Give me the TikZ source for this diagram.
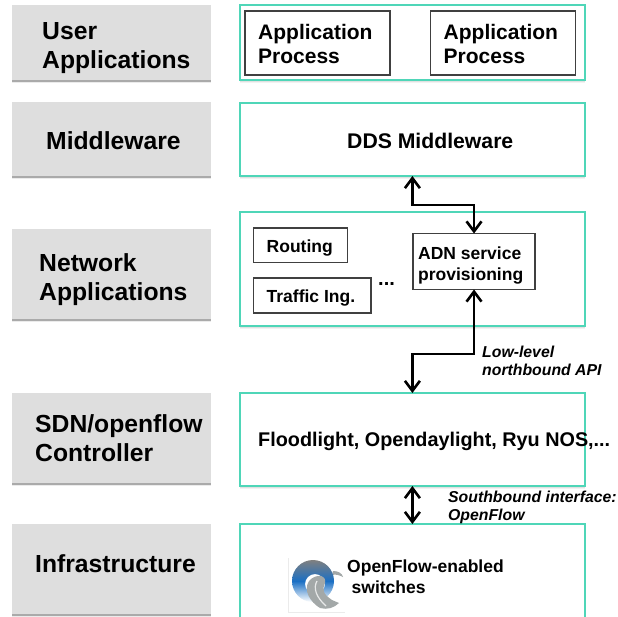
\documentclass[tikz,border=0pt]{standalone}
\usepackage{fontspec}
\setmainfont{Liberation Sans}
\usetikzlibrary{arrows.meta,shadows,calc}
\definecolor{tealedge}{HTML}{4FD6B8}
\definecolor{greyfill}{HTML}{DEDEDE}
\definecolor{procedge}{HTML}{404040}
\definecolor{logoblue}{HTML}{1A6FC4}
\definecolor{logodark}{HTML}{0A3F86}
\definecolor{logolight}{HTML}{3E96E0}
\definecolor{logogrey}{HTML}{A3A8A8}
\tikzset{
  greybox/.style={fill=greyfill,draw=none,anchor=north west,inner sep=0pt,outer sep=0pt,minimum width=199pt,
    drop shadow={shadow xshift=0pt,shadow yshift=-3.2pt,fill=black,opacity=.08},
    drop shadow={shadow xshift=0pt,shadow yshift=-1.8pt,fill=black,opacity=.28}},
  tealbox/.style={fill=white,draw=tealedge,line width=1.8pt,anchor=north west,inner sep=0pt,outer sep=0pt,minimum width=345pt,
    drop shadow={shadow xshift=0pt,shadow yshift=-3pt,fill=black,opacity=.05},
    drop shadow={shadow xshift=0pt,shadow yshift=-1.8pt,fill=black,opacity=.07}},
  procbox/.style={fill=white,draw=procedge,line width=1.3pt,anchor=north west,inner sep=0pt,outer sep=0pt},
  layertext/.style={anchor=base west,align=left,inner sep=0pt,font=\bfseries\fontsize{24.7}{28.7}\selectfont},
  proctext/.style={anchor=base west,align=left,inner sep=0pt,font=\bfseries\fontsize{21}{24.5}\selectfont},
  smalltext/.style={anchor=base west,align=left,inner sep=0pt,font=\bfseries\fontsize{17.5}{21}\selectfont},
  notetext/.style={anchor=base west,align=left,inner sep=0pt,font=\bfseries\itshape\fontsize{15.8}{17.8}\selectfont},
  link/.style={line width=2.6pt,black,{Straight Barb[length=10pt,width=15pt,line width=2.6pt]}-{Straight Barb[length=10pt,width=15pt,line width=2.6pt]}},
}
\begin{document}
\begin{tikzpicture}[x=1pt,y=-1pt]
\useasboundingbox (0,0) rectangle (618,616);
% left layer boxes
\node[greybox,minimum height=75pt] (g1) at (12,5) {};
\node[greybox,minimum height=74pt] (g2) at (12,102) {};
\node[greybox,minimum height=90pt] (g3) at (12,229) {};
\node[greybox,minimum height=90pt] (g4) at (12,393) {};
\node[greybox,minimum height=90pt] (g5) at (12,524) {};
\node[layertext] (t1) at (42,68) {User\\Applications};
\node[layertext] (t2) at (46,149) {Middleware};
\node[layertext] (t3) at (39,300) {Network\\Applications};
\node[layertext] (t4) at (35,461) {SDN/openflow\\Controller};
\node[layertext] (t5) at (35,572) {Infrastructure};
% right layer boxes
\node[tealbox,minimum height=75pt] (r1) at (240,5) {};
\node[tealbox,minimum height=73pt] (r2) at (240,103) {};
\node[tealbox,minimum height=114pt] (r3) at (240,212) {};
\node[tealbox,minimum height=93pt] (r4) at (240,393) {};
\node[tealbox,minimum height=96pt] (r5) at (240,524) {};
% inner boxes
\node[procbox,minimum width=145pt,minimum height=64pt] (p1) at (245,11) {};
\node[procbox,minimum width=145pt,minimum height=64pt] (p2) at (430.5,11) {};
\node[proctext] (pt1) at (258,63.5) {Application\\Process};
\node[proctext] (pt2) at (443.5,63.5) {Application\\Process};
\node[anchor=base west,inner sep=0pt,font=\bfseries\fontsize{21.2}{24}\selectfont] (dds) at (347,148) {DDS Middleware};
\node[procbox,minimum width=94pt,minimum height=34.5pt] (rt) at (253.5,228) {};
\node[procbox,minimum width=117.5pt,minimum height=35pt] (ti) at (253.5,278) {};
\node[procbox,minimum width=122pt,minimum height=56pt] (adn) at (413,233.5) {};
\node[smalltext] (rtt) at (266.5,252) {Routing};
\node[smalltext] (tit) at (266.5,302) {Traffic Ing.};
\node[smalltext] (adnt) at (418,280) {ADN service\\provisioning};
\node[anchor=base west,inner sep=0pt,font=\bfseries\fontsize{20}{24}\selectfont] (dots) at (378,285) {...};
\node[anchor=base west,inner sep=0pt,font=\bfseries\fontsize{19.8}{24}\selectfont] (fl) at (258,446) {Floodlight, Opendaylight, Ryu NOS,...};
\node[smalltext] (sw) at (347,593) {OpenFlow-enabled\\\hspace*{4.5pt}switches};
% connectors
\coordinate (xa) at (412.4,0);
\draw[link] (xa |- r2.south) -- ++(0,29) -| (adn.north);
\draw[link] (adn.south) -- ++(0,64.5) -| (xa |- r4.north);
\draw[link] (xa |- r4.south) -- (xa |- r5.north);
% notes
\node[notetext] (n1) at (482,375.5) {Low-level\\northbound API};
\node[notetext] (n2) at (448,520) {Southbound interface:\\OpenFlow};
% logo
\fill[white] (288,558) rectangle (345,612);
\draw[black!8,line width=.5pt] (288.5,558) -- (288.5,612) -- (345,612);
\fill[logogrey] (333,571) .. controls (338,571) and (342,573) .. (343,577) .. controls (339,575) and (336,574) .. (332,575) -- cycle;
\path[even odd rule,shade,inner color=logolight,outer color=logodark,middle color=logoblue]
  (313,581) circle [radius=21] (315,584) circle [radius=10];
\fill[logogrey] (309,581) .. controls (316,573) and (327,575) .. (325,583) .. controls (322,590) and (323,594) .. (332,600) -- (339,603) .. controls (334,608) and (327,610) .. (320,608) .. controls (310,602) and (303,590) .. (309,581) -- cycle;
\draw[white!75!logogrey,line width=1.2pt] (317,581) .. controls (313,588) and (316,597) .. (326,606);
\end{tikzpicture}
\end{document}
